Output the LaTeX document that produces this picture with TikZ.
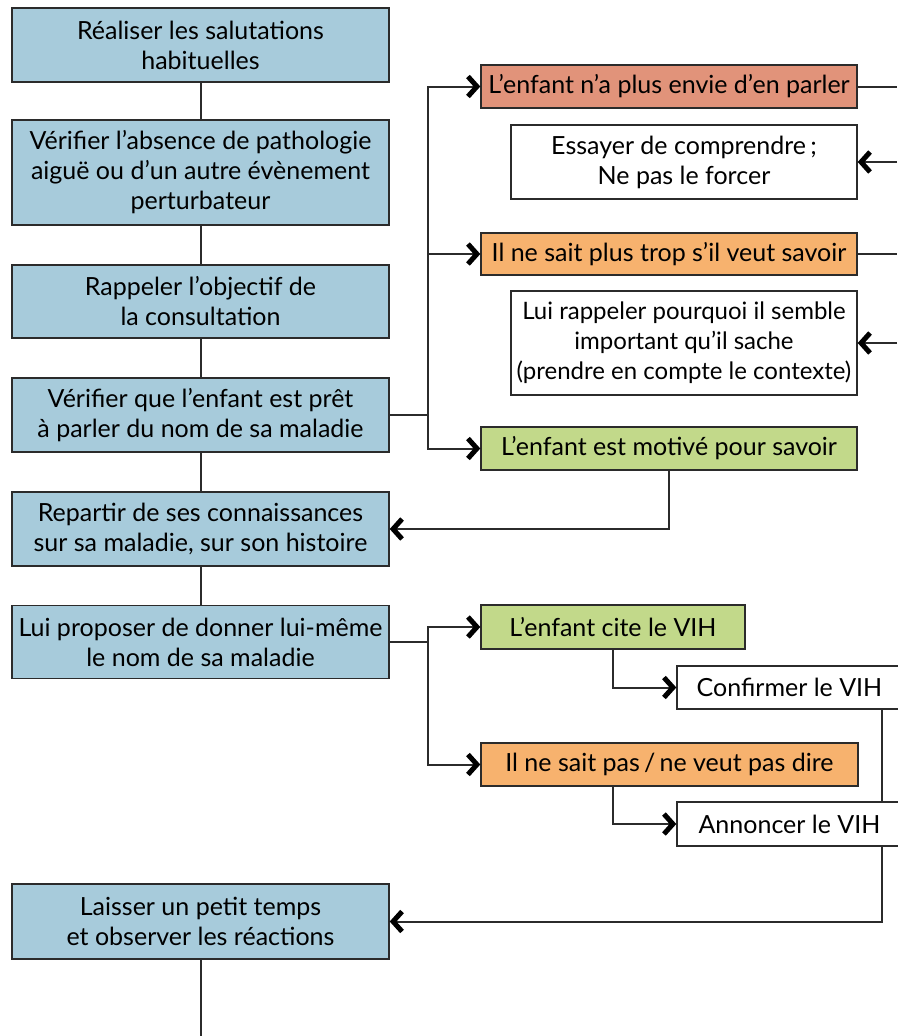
\documentclass[tikz,border=0pt]{standalone}
\usepackage{fontspec}
\setmainfont{Lato}
\usetikzlibrary{arrows.meta}
\definecolor{cblue}{HTML}{A7CBDB}
\definecolor{csalmon}{HTML}{E1937A}
\definecolor{corange}{HTML}{F7B26E}
\definecolor{cgreen}{HTML}{C2D98A}
\definecolor{cline}{HTML}{2B2B2B}
\begin{document}
\begin{tikzpicture}[x=1pt,y=-1pt,
  box/.style={draw=cline, line width=1.4pt, align=center, inner sep=0pt,
    font=\fontsize{25}{30}\selectfont, text=black},
  lbox/.style={box, fill=cblue, minimum width=377pt},
  rbox/.style={box, minimum width=376pt, minimum height=43pt},
  wbox/.style={box, fill=white, minimum width=346pt},
  conn/.style={draw=cline, line width=2pt},
  arr/.style={conn, -{Straight Barb[length=9pt,width=20pt,line width=5pt,sharp,color=black]}}]
\fill[white] (0,0) rectangle (897,1036);
\useasboundingbox (0,0) rectangle (897,1036);

% left column
\node[lbox, minimum height=74pt] (b1) at (200.5,45) {Réaliser les salutations\\habituelles};
\node[lbox, minimum height=105pt] (b2) at (200.5,172.5) {Vérifier l’absence de pathologie\\aiguë ou d’un autre évènement\\perturbateur};
\node[lbox, minimum height=73pt] (b3) at (200.5,301.5) {Rappeler l’objectif de\\la consultation};
\node[lbox, minimum height=74pt] (b4) at (200.5,415) {Vérifier que l’enfant est prêt\\à parler du nom de sa maladie};
\node[lbox, minimum height=74pt] (b5) at (200.5,529) {Repartir de ses connaissances\\sur sa maladie, sur son histoire};
\node[lbox, minimum height=73pt] (b6) at (200.5,642) {Lui proposer de donner lui-même\\le nom de sa maladie};
\node[lbox, minimum height=75pt] (b7) at (200.5,921.5) {Laisser un petit temps\\et observer les réactions};

% right column
\node[rbox, fill=csalmon] (r1) at (669,86.5) {L’enfant n’a plus envie d’en parler};
\node[wbox, minimum height=74pt] (w1) at (684,162) {Essayer de comprendre\,;\\Ne pas le forcer};
\node[rbox, fill=corange, minimum height=42pt] (r2) at (669,254) {Il ne sait plus trop s’il veut savoir};
\node[wbox, minimum height=104pt, font=\fontsize{24}{30}\selectfont] (w2) at (684,343) {Lui rappeler pourquoi il semble\\important qu’il sache\\(prendre en compte le contexte)};
\node[rbox, fill=cgreen] (r3) at (669,448.5) {L’enfant est motivé pour savoir};

\node[box, fill=cgreen, minimum width=264pt, minimum height=44pt] (g1) at (613,627) {L’enfant cite le VIH};
\node[box, fill=corange, minimum width=377pt, minimum height=43pt] (o2) at (669.5,764.5) {Il ne sait pas\,/\,ne veut pas dire};
\node[box, fill=white, minimum width=225pt, minimum height=43pt] (c1) at (789.5,687.5) {Confirmer le VIH};
\node[box, fill=white, minimum width=225pt, minimum height=44pt] (a1) at (789.5,824) {Annoncer le VIH};

\coordinate (ex) at (897,0);
\coordinate (vx) at (882,0);
\coordinate (bottom) at (0,1036);

% main vertical chain
\draw[conn] (b1) -- (b2);
\draw[conn] (b2) -- (b3);
\draw[conn] (b3) -- (b4);
\draw[conn] (b4) -- (b5);
\draw[conn] (b5) -- (b6);
\draw[conn] (b7.south) -- (b7.south |- bottom);

% branch from b4
\coordinate (j1) at (428,415);
\draw[conn] (b4.east) -- (j1);
\draw[arr] (j1) |- (r1.west);
\draw[arr] (j1) |- (r2.west);
\draw[arr] (j1) |- (r3.west);
\draw[conn] (r1.east) -- (r1.east -| ex);
\draw[arr] (w1.east -| ex) -- (w1.east);
\draw[conn] (r2.east) -- (r2.east -| ex);
\draw[arr] (w2.east -| ex) -- (w2.east);
\draw[arr] (r3.south) |- (b5.east);

% branch from b6
\coordinate (j2) at (428,642);
\draw[conn] (b6.east) -- (j2);
\draw[arr] (j2) |- (g1.west);
\draw[arr] (j2) |- (o2.west);
\draw[arr] (g1.south) |- (c1.west);
\draw[arr] (o2.south -| g1.south) |- (a1.west);
\draw[conn] (c1.south -| vx) -- (a1.north -| vx);
\draw[arr] (a1.south -| vx) |- (b7.east);
\end{tikzpicture}
\end{document}
